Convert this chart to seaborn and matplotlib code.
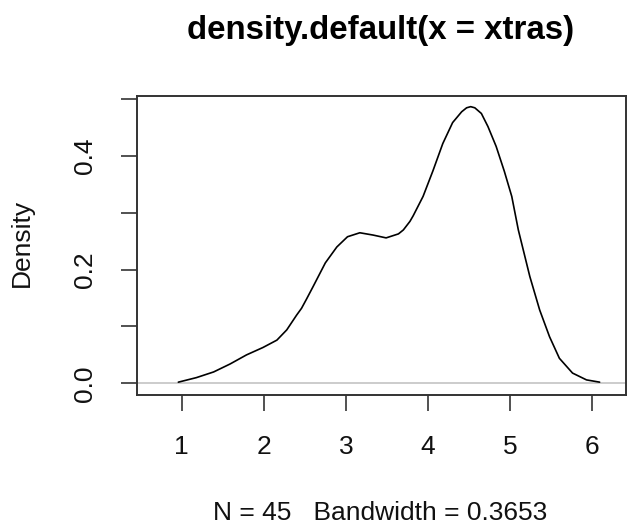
import numpy as np
import pandas as pd
import seaborn as sns
import matplotlib
matplotlib.use("Agg")
import matplotlib.pyplot as plt

# density curve (x, estimated density)
xs = [0.96, 1.18, 1.39, 1.59, 1.79, 1.99, 2.16, 2.28, 2.40, 2.46, 2.52, 2.60,
      2.75, 2.89, 3.02, 3.17, 3.33, 3.49, 3.64, 3.70, 3.78, 3.82, 3.94, 4.06,
      4.18, 4.30, 4.41, 4.47, 4.52, 4.57, 4.65, 4.73, 4.83, 4.93, 5.02, 5.10,
      5.24, 5.36, 5.48, 5.60, 5.76, 5.93, 6.09]
dens = [0.002, 0.010, 0.020, 0.034, 0.050, 0.063, 0.076, 0.094, 0.120, 0.132,
        0.148, 0.170, 0.212, 0.240, 0.258, 0.265, 0.261, 0.256, 0.263, 0.270,
        0.285, 0.295, 0.329, 0.374, 0.422, 0.459, 0.478, 0.485, 0.487, 0.485,
        0.475, 0.452, 0.417, 0.373, 0.329, 0.270, 0.188, 0.129, 0.082, 0.044,
        0.018, 0.006, 0.002]

xticks = [1, 2, 3, 4, 5, 6]
yticks = [0.0, 0.1, 0.2, 0.3, 0.4, 0.5]
ytick_labels = ["0.0", "", "0.2", "", "0.4", ""]

title = "density.default(x = xtras)"
xlab = "N = 45   Bandwidth = 0.3653"
ylab = "Density"

df = pd.DataFrame({"x": xs, "density": dens})

sns.set_style("ticks")
plt.rcParams["font.family"] = ["Liberation Sans", "DejaVu Sans"]

fig = plt.figure(figsize=(6.27, 5.27), dpi=100)
ax = fig.add_axes([136.7 / 627, 132 / 527, (625.5 - 136.7) / 627, (395 - 95.7) / 527])

ax.axhline(0, color="#bebebe", lw=1.1, zorder=1)
sns.lineplot(data=df, x="x", y="density", color="black", lw=1.2, ax=ax,
             sort=False, zorder=2)

ax.set_xlim(0.453, 6.405)
ax.set_ylim(-0.0206, 0.5063)
ax.set_xticks(xticks)
ax.set_xticklabels([str(t) for t in xticks])
ax.set_yticks(yticks)
ax.set_yticklabels(ytick_labels, rotation=90, va="center")

for s in ax.spines.values():
    s.set_visible(True)
    s.set_color("#333333")
    s.set_linewidth(1.4)

ax.tick_params(axis="both", direction="out", length=11.5, width=1.2,
               color="#333333", labelsize=19, labelcolor="#111111")
ax.tick_params(axis="x", pad=17)
ax.tick_params(axis="y", pad=17)

ax.set_xlabel(xlab, fontsize=19, va="center", color="#111111")
ax.xaxis.set_label_coords(0.499, -0.394)
ax.set_ylabel(ylab, fontsize=19, va="center", color="#111111")
ax.yaxis.set_label_coords(-0.2344, 0.508)

fig.text(381 / 627, 1 - 31 / 527, title, fontsize=23.8, fontweight="bold",
         color="black", ha="center", va="center")

fig.savefig("out.png", dpi=100, facecolor="white")
